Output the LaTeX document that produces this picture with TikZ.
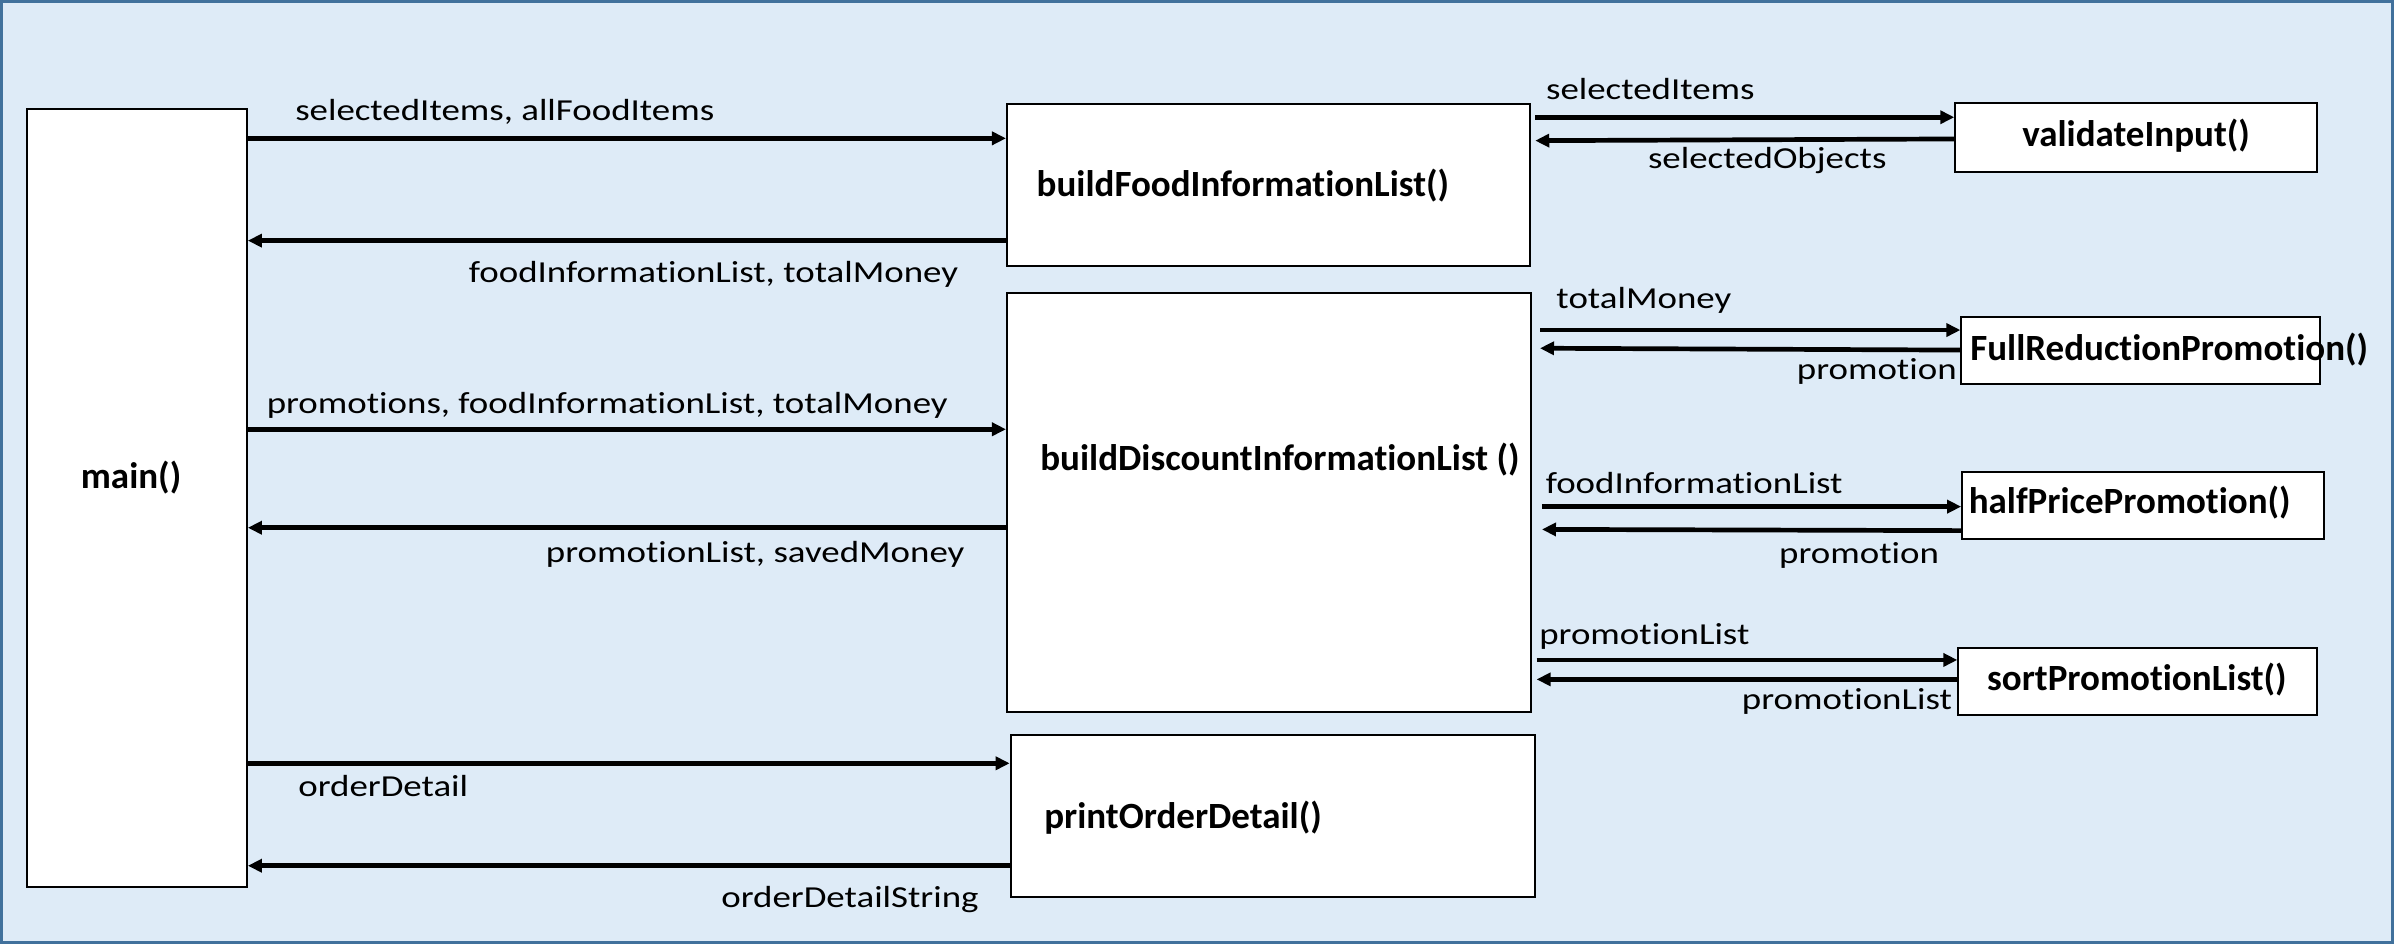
\documentclass[tikz,border=0pt]{standalone}
\usepackage{fontspec}
\setmainfont{Carlito}[Ligatures=CommonOff]
\newfontfamily\lblfont{Carlito}[FakeStretch=1.21,Ligatures=CommonOff]
\usetikzlibrary{arrows.meta,fit,calc}
\definecolor{bgfill}{RGB}{222,235,247}
\definecolor{framecol}{RGB}{65,113,156}
\begin{document}
\begin{tikzpicture}[x=1.52874pt,y=-1.52874pt,
  box/.style={draw=black,line width=2pt,fill=white,inner sep=0pt,rectangle},
  arr/.style={line width=4.7pt,-{Triangle[length=14pt,width=13pt]}},
  lbl/.style={font=\lblfont\fontsize{30.5}{36}\selectfont,inner sep=0pt,anchor=base west},
  fn/.style={font=\fontsize{37}{44}\selectfont\bfseries,inner sep=0pt,anchor=base west}]
\useasboundingbox (0,0) rectangle (1566,617.5);
\node[draw=framecol,fill=bgfill,line width=3pt,inner sep=0pt,fit={(1,1)(1565,616.5)}] (bg) {};
% boxes
\node[box,fit={(17.5,71)(161.5,580)}] (main) {};
\node[box,fit={(658.7,68.3)(1001,174)}] (bf) {};
\node[box,fit={(658.7,191.5)(1001.5,465.5)}] (bd) {};
\node[box,fit={(661.1,480.8)(1004.1,586.5)}] (po) {};
\node[box,fit={(1279,67.6)(1515.5,112.5)}] (vi) {};
\node[box,fit={(1283,207.4)(1517.5,251.3)}] (fr) {};
\node[box,fit={(1283.5,308.8)(1520,352.4)}] (hp) {};
\node[box,fit={(1281,423.7)(1515.7,467.7)}] (sp) {};
% box texts
\node[fn] (mainl) at (52.8,319.4) {main()};
\node[fn] (bfl) at (678,128.7) {buildFoodInformationList()};
\node[fn] (bdl) at (680.4,308) {buildDiscountInformationList ()};
\node[fn] (pol) at (683,541.9) {printOrderDetail()};
\node[fn] (vil) at (1322.7,96) {validateInput()};
\node[fn] (frl) at (1288.7,235.5) {FullReductionPromotion()};
\node[fn] (hpl) at (1287.7,335.8) {halfPricePromotion()};
\node[fn] (spl) at (1299.7,451.4) {sortPromotionList()};
% left arrows
\draw[arr] (main.east |- 0,90.5) -- (bf.west |- 0,90.5);
\draw[arr] (bf.west |- 0,157.4) -- (main.east |- 0,157.4);
\draw[arr] (main.east |- 0,280.8) -- (bd.west |- 0,280.8);
\draw[arr] (bd.west |- 0,345.2) -- (main.east |- 0,345.2);
\draw[arr] (main.east |- 0,499.3) -- (po.west |- 0,499.3);
\draw[arr] (po.west |- 0,566.3) -- (main.east |- 0,566.3);
% right arrows
\draw[arr] ($(bf.east |- 0,76.7)+(2.6,0)$) -- (vi.west |- 0,76.7);
\draw[arr] (vi.west |- 0,90.9) -- ($(bf.east |- 0,92)+(2.6,0)$);
\draw[arr] ($(bd.east |- 0,215.9)+(5.2,0)$) -- (fr.west |- 0,215.9);
\draw[arr] (fr.west |- 0,229) -- ($(bd.east |- 0,227.8)+(5.2,0)$);
\draw[arr] ($(bd.east |- 0,331.4)+(6.5,0)$) -- (hp.west |- 0,331.4);
\draw[arr] (hp.west |- 0,347.1) -- ($(bd.east |- 0,346.3)+(6.5,0)$);
\draw[arr] ($(bd.east |- 0,431.7)+(3,0)$) -- (sp.west |- 0,431.7);
\draw[arr] (sp.west |- 0,444.4) -- ($(bd.east |- 0,444.4)+(3,0)$);
% labels
\node[lbl] (l1) at (193,79) {selectedItems, allFoodItems};
\node[lbl] (l2) at (306.6,185) {foodInformationList, totalMoney};
\node[lbl] (l3) at (174.4,270.4) {promotions, foodInformationList, totalMoney};
\node[lbl] (l4) at (357,368) {promotionList, savedMoney};
\node[lbl] (l5) at (195,520.7) {orderDetail};
\node[lbl] (l6) at (471.7,593.5) {orderDetailString};
\node[lbl] (l7) at (1011.2,65.4) {selectedItems};
\node[lbl] (l8) at (1077.9,110.1) {selectedObjects};
\node[lbl] (l9) at (1018,201.7) {totalMoney};
\node[lbl] (l10) at (1175.3,248.3) {promotion};
\node[lbl] (l11) at (1011,323) {foodInformationList};
\node[lbl] (l12) at (1163.7,368.5) {promotion};
\node[lbl] (l13) at (1006.8,421.9) {promotionList};
\node[lbl] (l14) at (1139.3,464.4) {promotionList};
\end{tikzpicture}
\end{document}
